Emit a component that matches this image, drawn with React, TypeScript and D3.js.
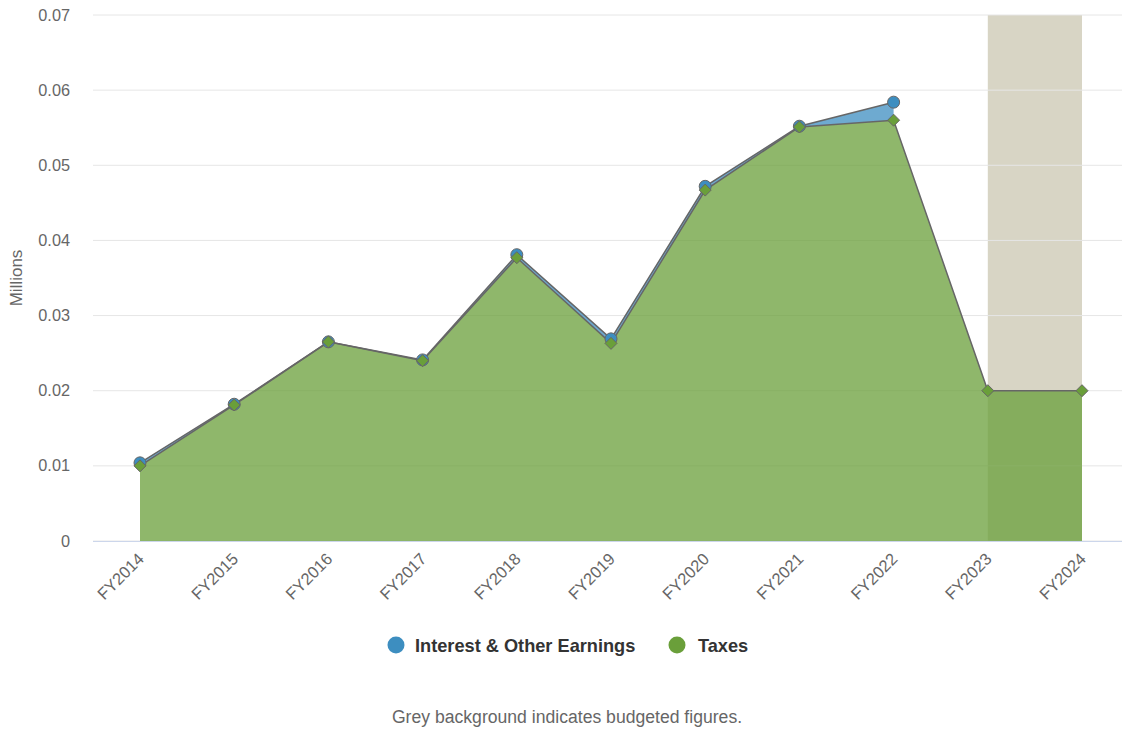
import React from "react";
import * as d3 from "d3";

const categories = ["FY2014","FY2015","FY2016","FY2017","FY2018","FY2019","FY2020","FY2021","FY2022","FY2023","FY2024"];
const taxes = [0.0100, 0.0181, 0.0265, 0.0240, 0.0377, 0.0263, 0.0467, 0.0551, 0.0560, 0.0200, 0.0200];
const interest: (number | null)[] = [0.0004, 0.0001, 0.0000, 0.0001, 0.0004, 0.0006, 0.0005, 0.0001, 0.0024, null, null];
const yTicks = [0, 0.01, 0.02, 0.03, 0.04, 0.05, 0.06, 0.07];
const budgetedFrom = "FY2023";
const budgetedTo = "FY2024";

const BLUE = "#3d8ec0";
const GREEN = "#6a9f3a";
const LINE = "#666666";
const FONT = "'Liberation Sans', Arial, Helvetica, sans-serif";

export default function App() {
  const W = 1122, H = 730;
  const plotLeft = 93, plotRight = 1122, plotTop = 15, plotBottom = 541;
  const x = d3.scaleLinear().domain([0, categories.length - 1]).range([140, 1082]);
  const y = d3.scaleLinear().domain([0, 0.07]).range([plotBottom, plotTop]);

  const greenData = taxes.map((v, i) => ({ i, y0: 0, y1: v }));
  const blueData = interest.map((v, i) => ({ i, y0: taxes[i], y1: v == null ? null : taxes[i] + v }));

  const greenArea = d3.area<any>().x(d => x(d.i)).y0(d => y(d.y0)).y1(d => y(d.y1));
  const greenLine = d3.line<any>().x(d => x(d.i)).y(d => y(d.y1));
  const blueArea = d3.area<any>().defined(d => d.y1 != null).x(d => x(d.i)).y0(d => y(d.y0)).y1(d => y(d.y1));
  const blueLine = d3.line<any>().defined(d => d.y1 != null).x(d => x(d.i)).y(d => y(d.y1));

  const bx0 = x(categories.indexOf(budgetedFrom));
  const bx1 = x(categories.indexOf(budgetedTo));

  const diamond = (cx: number, cy: number, r: number) =>
    `M${cx},${cy - r}L${cx + r},${cy}L${cx},${cy + r}L${cx - r},${cy}Z`;

  return (
    <svg width={W} height={H} style={{ position: "absolute", left: 0, top: 0, fontFamily: FONT }}>
      <rect x={0} y={0} width={W} height={H} fill="#ffffff" />
      {/* plot band */}
      <rect x={bx0} y={plotTop} width={bx1 - bx0} height={plotBottom - plotTop} fill="#d8d5c5" />
      {/* gridlines */}
      {yTicks.map(t => (
        <line key={t} x1={plotLeft} x2={plotRight} y1={y(t)} y2={y(t)} stroke="#e6e6e6" strokeWidth={1} />
      ))}
      {/* y labels */}
      {yTicks.map(t => (
        <text key={"l" + t} x={70} y={y(t) + 5.5} textAnchor="end" fontSize={16.3} fill="#666666">
          {t === 0 ? "0" : t.toFixed(2)}
        </text>
      ))}
      <text transform={`translate(22,${(plotTop + plotBottom) / 2}) rotate(-90)`} textAnchor="middle" fontSize={17} fill="#666666">Millions</text>
      {/* areas */}
      <path d={greenArea(greenData) || ""} fill={GREEN} fillOpacity={0.75} />
      <path d={blueArea(blueData) || ""} fill={BLUE} fillOpacity={0.75} />
      <path d={greenLine(greenData) || ""} fill="none" stroke={LINE} strokeWidth={1.5} />
      <path d={blueLine(blueData) || ""} fill="none" stroke={LINE} strokeWidth={1.5} />
      {/* axis line */}
      <line x1={plotLeft} x2={plotRight} y1={plotBottom + 0.5} y2={plotBottom + 0.5} stroke="#ccd6eb" strokeWidth={1} />
      {/* markers */}
      {blueData.filter(d => d.y1 != null).map(d => (
        <circle key={"b" + d.i} cx={x(d.i)} cy={y(d.y1 as number)} r={6} fill={BLUE} stroke={LINE} strokeWidth={1} />
      ))}
      {greenData.map(d => (
        <path key={"g" + d.i} d={diamond(x(d.i), y(d.y1), 6)} fill={GREEN} stroke={LINE} strokeWidth={1} />
      ))}
      {/* x labels */}
      {categories.map((c, i) => (
        <text key={c} transform={`translate(${x(i) + 5},${plotBottom + 19}) rotate(-45)`} textAnchor="end" fontSize={16.5} fill="#666666">{c}</text>
      ))}
      {/* legend */}
      <circle cx={396} cy={645} r={8.5} fill={BLUE} />
      <text x={415} y={651.5} fontSize={18.2} fontWeight="bold" fill="#333333">Interest &amp; Other Earnings</text>
      <circle cx={677} cy={645} r={8.5} fill={GREEN} />
      <text x={698} y={651.5} fontSize={18.2} fontWeight="bold" fill="#333333">Taxes</text>
      {/* caption */}
      <text x={567} y={723} textAnchor="middle" fontSize={17.6} fill="#666666">Grey background indicates budgeted figures.</text>
    </svg>
  );
}
